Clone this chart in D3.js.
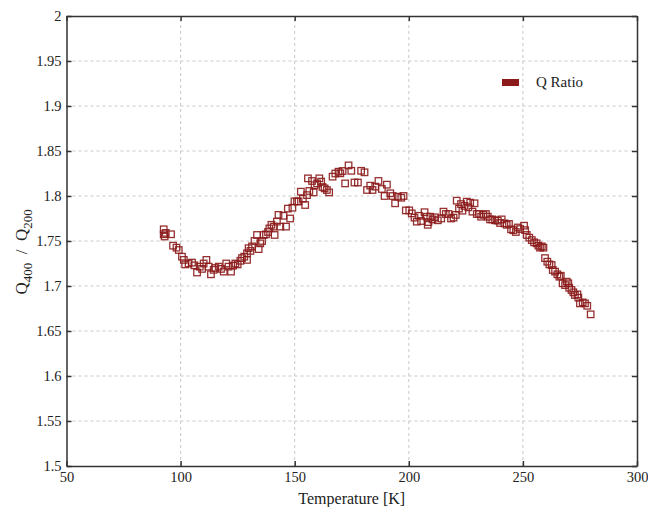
<script src="https://d3js.org/d3.v7.min.js"></script>

<style type="text/css">
  body { margin: 0; background: #fff; }
  svg { width: 648px; height: 507px; font-family: "Liberation Serif", "Times New Roman", serif; }
  .grid line { stroke: #c8c8c8; stroke-dasharray: 3,3; stroke-width: 1; }
  .axis path, .axis line { stroke: #333; stroke-width: 1.5; }
  .axis text { font-size: 14.5px; fill: #222; font-family: "Liberation Serif", serif; }
</style>

<body></body>

<script>
  // data
  var temperature = [92.6, 92.6, 93.0, 93.5, 95.8, 96.7, 98.2, 99.2, 100.6, 101.4,
    102.0, 103.5, 105.0, 106.0, 107.2, 108.4, 109.4, 110.1, 111.3, 112.3,
    113.3, 114.5, 115.2, 116.7, 117.7, 118.9, 120.0, 121.0, 122.1, 123.0,
    124.0, 125.0, 126.2, 126.9, 127.9, 129.1, 129.8, 129.1, 130.6, 131.3,
    132.4, 133.5, 134.2, 134.9, 135.7, 136.4, 137.4, 138.3, 138.9, 139.8,
    140.8, 141.2, 142.2, 142.9, 143.7, 145.1, 146.2, 147.0, 148.0, 149.0,
    149.9, 151.0, 151.7, 152.7, 153.6, 154.6, 155.4, 155.8, 156.4, 157.6,
    158.3, 158.7, 159.8, 160.8, 161.6, 162.2, 163.1, 164.1, 165.1, 166.6,
    167.8, 169.2, 170.0, 171.0, 172.1, 173.6, 174.8, 176.2, 177.7, 179.1,
    180.6, 181.7, 183.1, 184.1, 185.3, 186.7, 188.2, 189.4, 190.4, 191.9,
    192.9, 194.0, 195.2, 196.7, 197.7, 198.7, 200.2, 201.3, 202.5, 203.5,
    204.5, 205.4, 206.9, 207.9, 208.3, 208.6, 209.4, 210.4, 211.5, 212.7,
    214.2, 215.2, 216.2, 217.4, 218.5, 219.6, 220.6, 221.0, 222.0, 222.9,
    223.5, 224.4, 225.4, 226.1, 226.9, 227.9, 228.8, 229.8, 230.8, 231.7,
    232.7, 233.8, 234.6, 235.6, 236.6, 237.8, 239.0, 240.0, 240.7, 241.9,
    242.9, 243.9, 244.8, 245.8, 246.9, 247.8, 248.8, 250.5, 251.0, 251.7,
    252.8, 253.9, 254.9, 256.0, 256.8, 257.5, 258.3, 259.0, 259.7, 260.7,
    261.6, 262.6, 263.1, 264.1, 265.1, 266.0, 266.6, 267.4, 268.5, 269.2,
    269.9, 270.3, 271.3, 272.1, 272.8, 273.9, 274.3, 275.0, 276.2, 277.2,
    278.2, 279.7];
  var qRatio = [1.763, 1.7575, 1.755, 1.759, 1.7575, 1.7448, 1.7426, 1.740, 1.7326, 1.729,
    1.724, 1.725, 1.726, 1.723, 1.715, 1.7215, 1.719, 1.725, 1.729, 1.7215,
    1.713, 1.718, 1.720, 1.7215, 1.719, 1.716, 1.725, 1.7215, 1.716, 1.7226,
    1.725, 1.724, 1.728, 1.731, 1.7326, 1.7363, 1.742, 1.729, 1.739, 1.744,
    1.750, 1.7567, 1.741, 1.7474, 1.750, 1.7567, 1.7574, 1.760, 1.764, 1.768,
    1.766, 1.7567, 1.7715, 1.779, 1.766, 1.778, 1.766, 1.786, 1.775, 1.787,
    1.794, 1.794, 1.794, 1.8048, 1.797, 1.790, 1.801, 1.8196, 1.8056, 1.8167,
    1.804, 1.812, 1.814, 1.8196, 1.816, 1.810, 1.8085, 1.8067, 1.804, 1.8215,
    1.825, 1.827, 1.8252, 1.8278, 1.814, 1.834, 1.828, 1.815, 1.815, 1.828,
    1.8263, 1.8067, 1.8115, 1.8067, 1.8104, 1.8167, 1.8078, 1.800, 1.8126, 1.803,
    1.800, 1.7919, 1.7993, 1.7981, 1.800, 1.784, 1.784, 1.7807, 1.776, 1.7715,
    1.778, 1.7722, 1.782, 1.777, 1.768, 1.771, 1.777, 1.774, 1.7763, 1.773,
    1.775, 1.7826, 1.780, 1.780, 1.775, 1.776, 1.779, 1.7948, 1.786, 1.791,
    1.7837, 1.789, 1.7937, 1.7874, 1.7926, 1.7826, 1.7919, 1.780, 1.780, 1.777,
    1.779, 1.780, 1.777, 1.774, 1.774, 1.773, 1.7726, 1.770, 1.774, 1.7696,
    1.768, 1.769, 1.763, 1.762, 1.760, 1.765, 1.7633, 1.767, 1.762, 1.7567,
    1.7537, 1.751, 1.7485, 1.7474, 1.7448, 1.7426, 1.744, 1.7426, 1.731, 1.727,
    1.724, 1.7233, 1.7178, 1.716, 1.713, 1.7103, 1.7114, 1.703, 1.701, 1.7048,
    1.703, 1.698, 1.6956, 1.693, 1.690, 1.6907, 1.687, 1.6807, 1.6818, 1.6807,
    1.678, 1.6685];
  var xTicks = [50, 100, 150, 200, 250, 300];
  var yTicks = [1.5, 1.55, 1.6, 1.65, 1.7, 1.75, 1.8, 1.85, 1.9, 1.95, 2];
  var seriesName = "Q Ratio";

  var color = "#8b1a1a";
  var margin = {top: 16, right: 11, bottom: 41, left: 66.5};
  var width = 648, height = 507;
  var svg = d3.select('body').append('svg');

  var xScale = d3.scaleLinear().domain([50, 300]).range([margin.left, width - margin.right]);
  var yScale = d3.scaleLinear().domain([1.5, 2]).range([height - margin.bottom, margin.top]);

  // grid
  var grid = svg.append('g').attr('class', 'grid');
  grid.selectAll('line.gx')
    .data(xTicks.slice(1, -1))
    .enter().append('line')
    .attr('x1', d => xScale(d)).attr('x2', d => xScale(d))
    .attr('y1', yScale(1.5)).attr('y2', yScale(2));
  grid.selectAll('line.gy')
    .data(yTicks.slice(1, -1))
    .enter().append('line')
    .attr('class', 'gy')
    .attr('y1', d => yScale(d)).attr('y2', d => yScale(d))
    .attr('x1', xScale(50)).attr('x2', xScale(300));

  // points
  var pts = temperature.map((t, i) => ({t: t, q: qRatio[i]}));
  var s = 6.5;
  svg.append('g').selectAll('rect')
    .data(pts)
    .enter().append('rect')
    .attr('x', d => xScale(d.t) - s / 2)
    .attr('y', d => yScale(d.q) - s / 2)
    .attr('width', s).attr('height', s)
    .attr('fill', 'none')
    .attr('stroke', color)
    .attr('stroke-opacity', 0.9)
    .attr('stroke-width', 1.3);

  // axes (ticks inward)
  var fmt = d => d3.format('')(+d.toFixed(2));
  svg.append('g').attr('class', 'axis')
    .attr('transform', 'translate(0,' + yScale(1.5) + ')')
    .call(d3.axisBottom(xScale).tickValues(xTicks).tickSize(-5).tickSizeOuter(0).tickPadding(6));
  svg.append('g').attr('class', 'axis')
    .attr('transform', 'translate(0,' + yScale(2) + ')')
    .call(d3.axisTop(xScale).tickValues(xTicks).tickSize(-5).tickSizeOuter(0).tickFormat(''));
  svg.append('g').attr('class', 'axis')
    .attr('transform', 'translate(' + xScale(50) + ',0)')
    .call(d3.axisLeft(yScale).tickValues(yTicks).tickSize(-5).tickSizeOuter(0).tickPadding(5).tickFormat(fmt));
  svg.append('g').attr('class', 'axis')
    .attr('transform', 'translate(' + xScale(300) + ',0)')
    .call(d3.axisRight(yScale).tickValues(yTicks).tickSize(-5).tickSizeOuter(0).tickFormat(''));

  // axis titles
  svg.append('text')
    .attr('x', (xScale(50) + xScale(300)) / 2).attr('y', 504)
    .attr('text-anchor', 'middle')
    .style('font-size', '16px').attr('fill', '#222')
    .text('Temperature [K]');

  var yl = svg.append('text')
    .attr('transform', 'translate(27,' + yScale(1.738) + ') rotate(-90)')
    .attr('text-anchor', 'middle')
    .style('font-size', '17px').attr('fill', '#222');
  yl.append('tspan').text('Q');
  yl.append('tspan').attr('dy', 5).style('font-size', '13px').text('400');
  yl.append('tspan').attr('dy', -5).text('\u00a0\u00a0/\u00a0\u00a0Q');
  yl.append('tspan').attr('dy', 5).style('font-size', '13px').text('200');

  // legend
  svg.append('rect')
    .attr('x', 502).attr('y', 79).attr('width', 17).attr('height', 7)
    .attr('fill', color);
  svg.append('text')
    .attr('x', 536).attr('y', 87)
    .style('font-size', '15px').attr('fill', '#222')
    .text(seriesName);
</script>
